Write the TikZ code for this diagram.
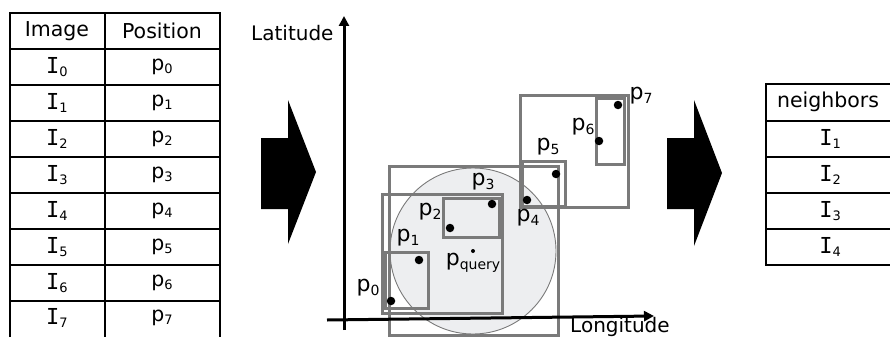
\documentclass[tikz,border=0pt]{standalone}
\usepackage{fontspec}
\setmainfont{DejaVu Sans}
\newfontfamily\serifI{DejaVu Sans Mono}
\usetikzlibrary{arrows.meta}
\definecolor{boxgray}{HTML}{7A7A7A}
\definecolor{circfill}{HTML}{EDEEF0}
\newcommand{\Isub}[1]{{\serifI\fontsize{22}{22}\selectfont I}\raisebox{-3pt}{\fontsize{13}{13}\selectfont #1}}
\newcommand{\psub}[1]{p\raisebox{-3pt}{\fontsize{13}{13}\selectfont #1}}
\newcommand{\plab}[1]{p\raisebox{-4pt}{\fontsize{14}{14}\selectfont #1}}
\tikzset{
  cell/.style={inner sep=0pt, font=\fontsize{20.5}{20.5}\selectfont},
  tline/.style={draw=black, line width=1.1pt},
  bbox/.style={draw=boxgray, line width=3pt},
  pt/.style={circle, fill=black, inner sep=0pt, minimum size=8.5pt},
  plabel/.style={inner sep=0pt, font=\fontsize{22}{22}\selectfont},
  bigarrow/.style={fill=black},
  axis/.style={line width=3pt, -{Triangle[length=10pt,width=10pt]}},
}
\begin{document}
\begin{tikzpicture}[x=1pt,y=-1pt]
\useasboundingbox (0,0) rectangle (890,337);
% ---------- left table ----------
\draw[tline] (10,337) -- (10,13) -- (220,13) -- (220,337);
\draw[tline] (105,13) -- (105,337);
\foreach \yy in {49,85,121,157,193,229,265,301}{\draw[tline] (10,\yy) -- (220,\yy);}
\node[cell] (hImg) at (57,31) {Image};
\node[cell] (hPos) at (162,31) {Position};
\foreach \i/\yy in {0/67,1/103,2/139,3/175,4/211,5/247,6/283,7/318}{
  \node[cell] (I\i) at (57,\yy) {\Isub{\i}};
  \node[cell] (P\i) at (162,\yy) {\psub{\i}};
}
% ---------- big arrows ----------
\path[bigarrow] (261,138) -- (288,138) -- (288,100) -- (316,172) -- (288,244) -- (288,209) -- (261,209) -- cycle;
\path[bigarrow] (667,138) -- (694,138) -- (694,100) -- (722,173) -- (694,246) -- (694,209) -- (667,209) -- cycle;
% ---------- plot ----------
\node[circle, draw=boxgray, line width=0.9pt, fill=circfill, minimum size=166pt, inner sep=0pt] (circ) at (473,251) {};
\draw[bbox] (389,166) rectangle (558,335);
\draw[bbox] (382,194) rectangle (502,313);
\draw[bbox] (443,198) rectangle (499,237);
\draw[bbox] (385,252) rectangle (428,308);
\draw[bbox] (520,95) rectangle (628,207);
\draw[bbox] (522,161) rectangle (565,206);
\draw[bbox] (596,98) rectangle (624,164);
% axes
\coordinate (xs) at (327,320);
\coordinate (xe) at (654,316);
\coordinate (ys) at (344,330);
\coordinate (ye) at (344,16);
\draw[axis] (xs) -- (xe);
\draw[axis] (ys) -- (ye);
\node[inner sep=0pt, anchor=base west, font=\fontsize{20}{20}\selectfont] (lat) at (251,41) {Latitude};
\node[inner sep=0pt, anchor=base west, font=\fontsize{20}{20}\selectfont] (lon) at (570,332) {Longitude};
% points
\node[pt] (p0) at (391,301) {};
\node[pt] (p1) at (419,260) {};
\node[pt] (p2) at (450,228) {};
\node[pt] (p3) at (492,204) {};
\node[pt] (p4) at (527,200) {};
\node[pt] (p5) at (556,174) {};
\node[pt] (p6) at (599,141) {};
\node[pt] (p7) at (618,105) {};
\node[circle, fill=black, inner sep=0pt, minimum size=4pt] (pq) at (473,251) {};
% labels
\node[plabel] (l0) at (368,288) {\plab{0}};
\node[plabel] (l1) at (408,238) {\plab{1}};
\node[plabel] (l2) at (430,212) {\plab{2}};
\node[plabel] (l3) at (483,182) {\plab{3}};
\node[plabel] (l4) at (528,218) {\plab{4}};
\node[plabel] (l5) at (548,147) {\plab{5}};
\node[plabel] (l6) at (583,127) {\plab{6}};
\node[plabel] (l7) at (641,96) {\plab{7}};
\node[plabel] (lq) at (473,263) {\plab{query}};
% ---------- right table ----------
\draw[tline] (890,84) -- (766,84) -- (766,265) -- (890,265);
\foreach \yy in {121,157,193,229}{\draw[tline] (766,\yy) -- (890,\yy);}
\node[cell] (hN) at (828,102) {neighbors};
\foreach \i/\yy in {1/139,2/175,3/211,4/247}{
  \node[cell] (N\i) at (830,\yy) {\Isub{\i}};
}
\end{tikzpicture}
\end{document}
